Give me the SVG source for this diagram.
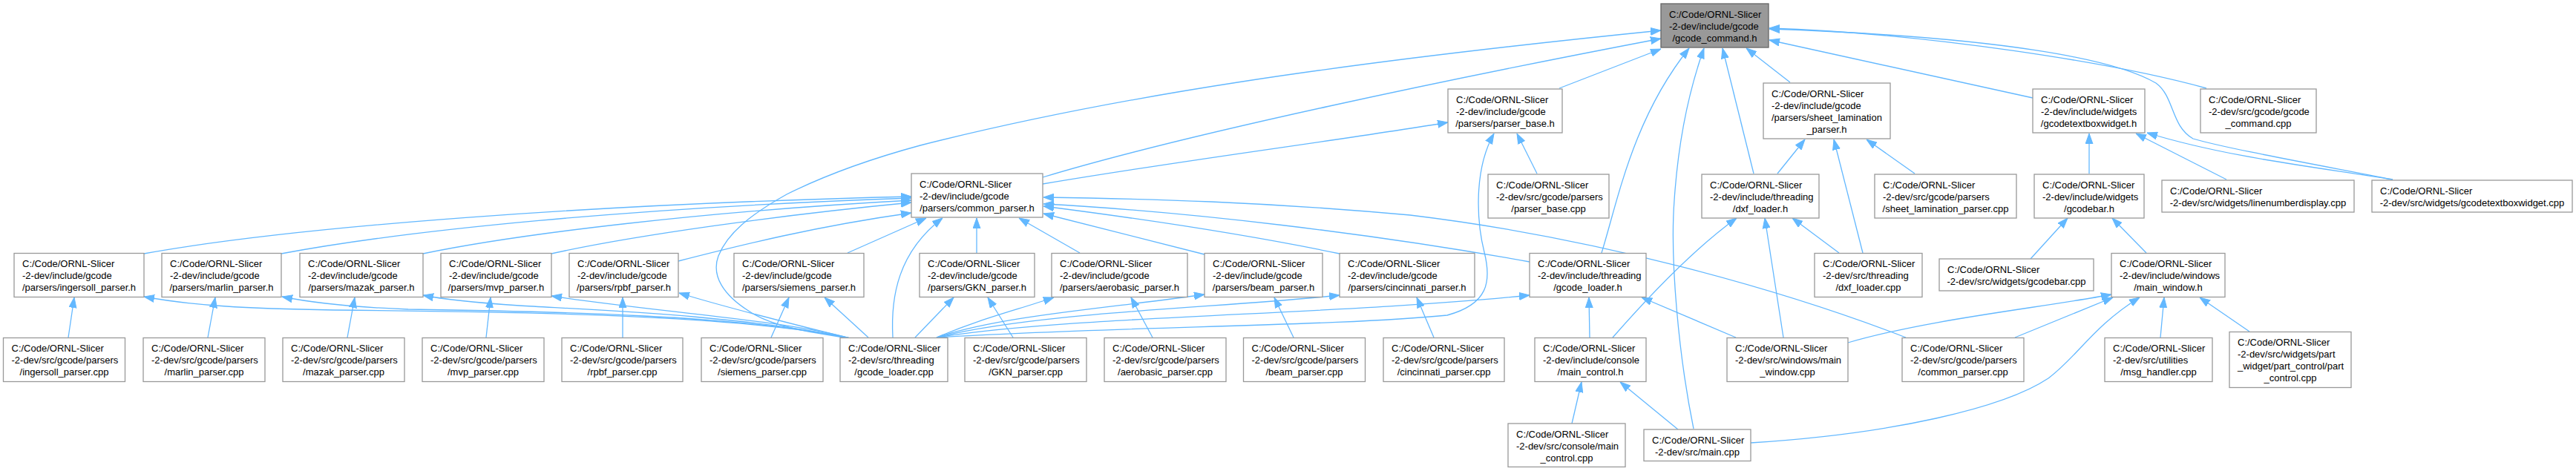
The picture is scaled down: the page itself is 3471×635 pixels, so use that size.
<svg xmlns="http://www.w3.org/2000/svg" width="3471" height="635" viewBox="0 0 3471 635">
<style>
.node rect{fill:#ffffff;stroke:#999999;stroke-width:1.3}
.hl rect{fill:#999999;stroke:#666666;stroke-width:1.3}
text{font-family:"Liberation Sans",Arial,Helvetica,sans-serif;font-size:13px;fill:#000000}
.c{text-anchor:middle}
.e{fill:none;stroke:#63b8ff;stroke-width:1.3;marker-end:url(#ah)}
</style>
<defs>
<marker id="ah" viewBox="0 0 14 11" refX="14" refY="5.5" markerWidth="14" markerHeight="11" orient="auto" markerUnits="userSpaceOnUse">
<path d="M0,0.5 L14,5.5 L0,10.5 z" fill="#63b8ff" stroke="#63b8ff" stroke-width="1"/>
</marker>
</defs>
<rect x="0" y="0" width="3471" height="635" fill="#ffffff"/>
<g id="edges">
<path class="e" d="M1145,456 C1090,448 1040,440 1010,420 C975,398 958,372 968,345 C980,315 1010,290 1060,262 C1110,237 1170,215 1240,196 C1500,130 1800,85 2238,41"/>
<path class="e" d="M1405,239 C1600,180 1960,105 2238,52"/>
<path class="e" d="M1405,248 C1600,215 1800,190 1951,165"/>
<path class="e" d="M2101,119 L2238,66"/>
<path class="e" d="M2158,341 C2180,270 2200,160 2276,65"/>
<path class="e" d="M2282,578 C2262,480 2250,350 2256,270 C2262,180 2280,110 2296,65"/>
<path class="e" d="M2363,234 L2321,65"/>
<path class="e" d="M2412,111 L2353,65"/>
<path class="e" d="M2739,132 L2384,54"/>
<path class="e" d="M2973,119 C2850,85 2600,45 2384,38"/>
<path class="e" d="M3224,242 C3100,218 3000,200 2955,187 C2925,170 2930,130 2905,112 C2850,80 2700,50 2384,39"/>
<path class="e" d="M3224,242 C3120,225 3000,212 2893,179"/>
<path class="e" d="M3000,242 L2878,180"/>
<path class="e" d="M2815,234 L2815,180"/>
<path class="e" d="M2395,234 L2432,188"/>
<path class="e" d="M2510,341 L2471,188"/>
<path class="e" d="M2580,234 L2515,188"/>
<path class="e" d="M2071,234 L2044,180"/>
<path class="e" d="M1262,455 C1500,440 1800,440 1950,425 C2005,410 2010,380 2000,340 C1990,300 1985,230 2013,180"/>
<path class="e" d="M1145,456 C1000,425 700,420 450,418 C330,416 260,412 194,400"/>
<path class="e" d="M1145,456 C1000,425 750,420 550,417 C470,414 420,408 380,400"/>
<path class="e" d="M1145,456 C1000,425 800,418 700,412 C640,408 600,404 570,398"/>
<path class="e" d="M1145,456 C1060,432 880,420 743,399"/>
<path class="e" d="M1145,456 C1080,440 980,415 915,395"/>
<path class="e" d="M1170,455 L1111,401"/>
<path class="e" d="M1233,455 L1285,401"/>
<path class="e" d="M1262,455 C1320,430 1370,418 1420,401"/>
<path class="e" d="M1262,455 C1350,425 1500,415 1623,397"/>
<path class="e" d="M1262,455 C1400,420 1650,415 1805,398"/>
<path class="e" d="M1262,455 C1450,425 1800,425 2061,398"/>
<path class="e" d="M1203,455 C1200,400 1210,340 1270,294"/>
<path class="e" d="M194,342 C400,305 800,275 1228,265"/>
<path class="e" d="M379,342 C550,310 850,280 1228,267"/>
<path class="e" d="M570,342 C700,315 950,285 1228,270"/>
<path class="e" d="M743,342 C850,318 1050,290 1228,273"/>
<path class="e" d="M914,352 C1000,330 1100,305 1228,287"/>
<path class="e" d="M1142,341 L1248,294"/>
<path class="e" d="M1316,341 L1316,294"/>
<path class="e" d="M1455,341 L1373,294"/>
<path class="e" d="M1623,343 L1406,288"/>
<path class="e" d="M1805,342 C1650,310 1500,290 1406,278"/>
<path class="e" d="M2061,353 C1850,315 1600,285 1406,275"/>
<path class="e" d="M2568,455 C2400,390 2150,320 1900,290 C1700,272 1550,268 1406,266"/>
<path class="e" d="M92,455 L100,401"/>
<path class="e" d="M280,455 L290,401"/>
<path class="e" d="M468,455 L478,401"/>
<path class="e" d="M655,455 L661,401"/>
<path class="e" d="M839,455 L839,401"/>
<path class="e" d="M1039,455 L1063,401"/>
<path class="e" d="M1365,455 L1331,401"/>
<path class="e" d="M1553,455 L1524,401"/>
<path class="e" d="M1743,455 L1717,401"/>
<path class="e" d="M1932,455 L1909,401"/>
<path class="e" d="M2142,455 L2141,401"/>
<path class="e" d="M2339,455 L2212,401"/>
<path class="e" d="M2173,455 C2230,390 2290,330 2340,294"/>
<path class="e" d="M2403,455 L2378,294"/>
<path class="e" d="M2478,341 L2415,294"/>
<path class="e" d="M2736,349 L2786,294"/>
<path class="e" d="M2892,341 L2846,294"/>
<path class="e" d="M2490,462 C2600,430 2750,415 2845,397"/>
<path class="e" d="M2715,455 L2847,401"/>
<path class="e" d="M2359,597 C2550,585 2700,550 2760,510 C2800,480 2820,440 2883,401"/>
<path class="e" d="M2911,455 L2916,401"/>
<path class="e" d="M3031,447 L2964,401"/>
<path class="e" d="M2118,571 L2131,515"/>
<path class="e" d="M2261,579 L2183,515"/>
</g>
<g id="gcode_command_h" class="hl"><rect x="2238" y="5" width="145" height="59"/><text x="2249" y="23.5">C:/Code/ORNL-Slicer</text><text x="2249" y="39.5">-2-dev/include/gcode</text><text class="c" x="2310.5" y="55.5">/gcode_command.h</text></g>
<g id="parser_base_h" class="node"><rect x="1951" y="120" width="154" height="59"/><text x="1962" y="138.5">C:/Code/ORNL-Slicer</text><text x="1962" y="154.5">-2-dev/include/gcode</text><text class="c" x="2028" y="170.5">/parsers/parser_base.h</text></g>
<g id="sheet_lamination_parser_h" class="node"><rect x="2376" y="112" width="171" height="75"/><text x="2387" y="130.5">C:/Code/ORNL-Slicer</text><text x="2387" y="146.5">-2-dev/include/gcode</text><text x="2387" y="162.5">/parsers/sheet_lamination</text><text class="c" x="2461.5" y="178.5">_parser.h</text></g>
<g id="gcodetextboxwidget_h" class="node"><rect x="2739" y="120" width="151" height="59"/><text x="2750" y="138.5">C:/Code/ORNL-Slicer</text><text x="2750" y="154.5">-2-dev/include/widgets</text><text class="c" x="2814.5" y="170.5">/gcodetextboxwidget.h</text></g>
<g id="gcode_command_cpp" class="node"><rect x="2965" y="120" width="156" height="59"/><text x="2976" y="138.5">C:/Code/ORNL-Slicer</text><text x="2976" y="154.5">-2-dev/src/gcode/gcode</text><text class="c" x="3043" y="170.5">_command.cpp</text></g>
<g id="common_parser_h" class="node"><rect x="1228" y="234" width="177" height="59"/><text x="1239" y="252.5">C:/Code/ORNL-Slicer</text><text x="1239" y="268.5">-2-dev/include/gcode</text><text class="c" x="1316.5" y="284.5">/parsers/common_parser.h</text></g>
<g id="parser_base_cpp" class="node"><rect x="2005" y="235" width="163" height="59"/><text x="2016" y="253.5">C:/Code/ORNL-Slicer</text><text x="2016" y="269.5">-2-dev/src/gcode/parsers</text><text class="c" x="2086.5" y="285.5">/parser_base.cpp</text></g>
<g id="dxf_loader_h" class="node"><rect x="2293" y="235" width="158" height="59"/><text x="2304" y="253.5">C:/Code/ORNL-Slicer</text><text x="2304" y="269.5">-2-dev/include/threading</text><text class="c" x="2372" y="285.5">/dxf_loader.h</text></g>
<g id="sheet_lamination_parser_cpp" class="node"><rect x="2526" y="235" width="191" height="59"/><text x="2537" y="253.5">C:/Code/ORNL-Slicer</text><text x="2537" y="269.5">-2-dev/src/gcode/parsers</text><text class="c" x="2621.5" y="285.5">/sheet_lamination_parser.cpp</text></g>
<g id="gcodebar_h" class="node"><rect x="2741" y="235" width="148" height="59"/><text x="2752" y="253.5">C:/Code/ORNL-Slicer</text><text x="2752" y="269.5">-2-dev/include/widgets</text><text class="c" x="2815" y="285.5">/gcodebar.h</text></g>
<g id="linenumberdisplay_cpp" class="node"><rect x="2913" y="243" width="259" height="43"/><text x="2924" y="261.5">C:/Code/ORNL-Slicer</text><text class="c" x="3042.5" y="277.5">-2-dev/src/widgets/linenumberdisplay.cpp</text></g>
<g id="gcodetextboxwidget_cpp" class="node"><rect x="3196" y="243" width="270" height="43"/><text x="3207" y="261.5">C:/Code/ORNL-Slicer</text><text class="c" x="3331" y="277.5">-2-dev/src/widgets/gcodetextboxwidget.cpp</text></g>
<g id="ingersoll_parser_h" class="node"><rect x="19" y="341.5" width="175" height="59"/><text x="30" y="360">C:/Code/ORNL-Slicer</text><text x="30" y="376">-2-dev/include/gcode</text><text class="c" x="106.5" y="392">/parsers/ingersoll_parser.h</text></g>
<g id="marlin_parser_h" class="node"><rect x="218" y="341.5" width="161" height="59"/><text x="229" y="360">C:/Code/ORNL-Slicer</text><text x="229" y="376">-2-dev/include/gcode</text><text class="c" x="298.5" y="392">/parsers/marlin_parser.h</text></g>
<g id="mazak_parser_h" class="node"><rect x="404" y="341.5" width="166" height="59"/><text x="415" y="360">C:/Code/ORNL-Slicer</text><text x="415" y="376">-2-dev/include/gcode</text><text class="c" x="487" y="392">/parsers/mazak_parser.h</text></g>
<g id="mvp_parser_h" class="node"><rect x="594" y="341.5" width="149" height="59"/><text x="605" y="360">C:/Code/ORNL-Slicer</text><text x="605" y="376">-2-dev/include/gcode</text><text class="c" x="668.5" y="392">/parsers/mvp_parser.h</text></g>
<g id="rpbf_parser_h" class="node"><rect x="767" y="341.5" width="147" height="59"/><text x="778" y="360">C:/Code/ORNL-Slicer</text><text x="778" y="376">-2-dev/include/gcode</text><text class="c" x="840.5" y="392">/parsers/rpbf_parser.h</text></g>
<g id="siemens_parser_h" class="node"><rect x="989" y="341.5" width="175" height="59"/><text x="1000" y="360">C:/Code/ORNL-Slicer</text><text x="1000" y="376">-2-dev/include/gcode</text><text class="c" x="1076.5" y="392">/parsers/siemens_parser.h</text></g>
<g id="GKN_parser_h" class="node"><rect x="1239" y="341.5" width="155" height="59"/><text x="1250" y="360">C:/Code/ORNL-Slicer</text><text x="1250" y="376">-2-dev/include/gcode</text><text class="c" x="1316.5" y="392">/parsers/GKN_parser.h</text></g>
<g id="aerobasic_parser_h" class="node"><rect x="1417" y="341.5" width="183" height="59"/><text x="1428" y="360">C:/Code/ORNL-Slicer</text><text x="1428" y="376">-2-dev/include/gcode</text><text class="c" x="1508.5" y="392">/parsers/aerobasic_parser.h</text></g>
<g id="beam_parser_h" class="node"><rect x="1623" y="341.5" width="159" height="59"/><text x="1634" y="360">C:/Code/ORNL-Slicer</text><text x="1634" y="376">-2-dev/include/gcode</text><text class="c" x="1702.5" y="392">/parsers/beam_parser.h</text></g>
<g id="cincinnati_parser_h" class="node"><rect x="1805" y="341.5" width="182" height="59"/><text x="1816" y="360">C:/Code/ORNL-Slicer</text><text x="1816" y="376">-2-dev/include/gcode</text><text class="c" x="1896" y="392">/parsers/cincinnati_parser.h</text></g>
<g id="gcode_loader_h" class="node"><rect x="2061" y="341.5" width="157" height="59"/><text x="2072" y="360">C:/Code/ORNL-Slicer</text><text x="2072" y="376">-2-dev/include/threading</text><text class="c" x="2139.5" y="392">/gcode_loader.h</text></g>
<g id="dxf_loader_cpp" class="node"><rect x="2445" y="341.5" width="145" height="59"/><text x="2456" y="360">C:/Code/ORNL-Slicer</text><text x="2456" y="376">-2-dev/src/threading</text><text class="c" x="2517.5" y="392">/dxf_loader.cpp</text></g>
<g id="gcodebar_cpp" class="node"><rect x="2613" y="349" width="208" height="43"/><text x="2624" y="367.5">C:/Code/ORNL-Slicer</text><text class="c" x="2717" y="383.5">-2-dev/src/widgets/gcodebar.cpp</text></g>
<g id="main_window_h" class="node"><rect x="2845" y="341.5" width="153" height="59"/><text x="2856" y="360">C:/Code/ORNL-Slicer</text><text x="2856" y="376">-2-dev/include/windows</text><text class="c" x="2921.5" y="392">/main_window.h</text></g>
<g id="ingersoll_parser_cpp" class="node"><rect x="4.5" y="455.5" width="164" height="59"/><text x="15.5" y="474">C:/Code/ORNL-Slicer</text><text x="15.5" y="490">-2-dev/src/gcode/parsers</text><text class="c" x="86.5" y="506">/ingersoll_parser.cpp</text></g>
<g id="marlin_parser_cpp" class="node"><rect x="193" y="455.5" width="164" height="59"/><text x="204" y="474">C:/Code/ORNL-Slicer</text><text x="204" y="490">-2-dev/src/gcode/parsers</text><text class="c" x="275" y="506">/marlin_parser.cpp</text></g>
<g id="mazak_parser_cpp" class="node"><rect x="381" y="455.5" width="164" height="59"/><text x="392" y="474">C:/Code/ORNL-Slicer</text><text x="392" y="490">-2-dev/src/gcode/parsers</text><text class="c" x="463" y="506">/mazak_parser.cpp</text></g>
<g id="mvp_parser_cpp" class="node"><rect x="569" y="455.5" width="164" height="59"/><text x="580" y="474">C:/Code/ORNL-Slicer</text><text x="580" y="490">-2-dev/src/gcode/parsers</text><text class="c" x="651" y="506">/mvp_parser.cpp</text></g>
<g id="rpbf_parser_cpp" class="node"><rect x="757" y="455.5" width="163" height="59"/><text x="768" y="474">C:/Code/ORNL-Slicer</text><text x="768" y="490">-2-dev/src/gcode/parsers</text><text class="c" x="838.5" y="506">/rpbf_parser.cpp</text></g>
<g id="siemens_parser_cpp" class="node"><rect x="945" y="455.5" width="164" height="59"/><text x="956" y="474">C:/Code/ORNL-Slicer</text><text x="956" y="490">-2-dev/src/gcode/parsers</text><text class="c" x="1027" y="506">/siemens_parser.cpp</text></g>
<g id="gcode_loader_cpp" class="node"><rect x="1132" y="455.5" width="145" height="59"/><text x="1143" y="474">C:/Code/ORNL-Slicer</text><text x="1143" y="490">-2-dev/src/threading</text><text class="c" x="1204.5" y="506">/gcode_loader.cpp</text></g>
<g id="GKN_parser_cpp" class="node"><rect x="1300" y="455.5" width="164" height="59"/><text x="1311" y="474">C:/Code/ORNL-Slicer</text><text x="1311" y="490">-2-dev/src/gcode/parsers</text><text class="c" x="1382" y="506">/GKN_parser.cpp</text></g>
<g id="aerobasic_parser_cpp" class="node"><rect x="1488" y="455.5" width="164" height="59"/><text x="1499" y="474">C:/Code/ORNL-Slicer</text><text x="1499" y="490">-2-dev/src/gcode/parsers</text><text class="c" x="1570" y="506">/aerobasic_parser.cpp</text></g>
<g id="beam_parser_cpp" class="node"><rect x="1675.5" y="455.5" width="164" height="59"/><text x="1686.5" y="474">C:/Code/ORNL-Slicer</text><text x="1686.5" y="490">-2-dev/src/gcode/parsers</text><text class="c" x="1757.5" y="506">/beam_parser.cpp</text></g>
<g id="cincinnati_parser_cpp" class="node"><rect x="1864" y="455.5" width="163" height="59"/><text x="1875" y="474">C:/Code/ORNL-Slicer</text><text x="1875" y="490">-2-dev/src/gcode/parsers</text><text class="c" x="1945.5" y="506">/cincinnati_parser.cpp</text></g>
<g id="main_control_h" class="node"><rect x="2068" y="455.5" width="150" height="59"/><text x="2079" y="474">C:/Code/ORNL-Slicer</text><text x="2079" y="490">-2-dev/include/console</text><text class="c" x="2143" y="506">/main_control.h</text></g>
<g id="main_window_cpp" class="node"><rect x="2327" y="455.5" width="163" height="59"/><text x="2338" y="474">C:/Code/ORNL-Slicer</text><text x="2338" y="490">-2-dev/src/windows/main</text><text class="c" x="2408.5" y="506">_window.cpp</text></g>
<g id="common_parser_cpp" class="node"><rect x="2563" y="455.5" width="164" height="59"/><text x="2574" y="474">C:/Code/ORNL-Slicer</text><text x="2574" y="490">-2-dev/src/gcode/parsers</text><text class="c" x="2645" y="506">/common_parser.cpp</text></g>
<g id="msg_handler_cpp" class="node"><rect x="2836" y="455.5" width="145" height="59"/><text x="2847" y="474">C:/Code/ORNL-Slicer</text><text x="2847" y="490">-2-dev/src/utilities</text><text class="c" x="2908.5" y="506">/msg_handler.cpp</text></g>
<g id="part_control_cpp" class="node"><rect x="3004" y="447.5" width="164" height="75"/><text x="3015" y="466">C:/Code/ORNL-Slicer</text><text x="3015" y="482">-2-dev/src/widgets/part</text><text x="3015" y="498">_widget/part_control/part</text><text class="c" x="3086" y="514">_control.cpp</text></g>
<g id="main_control_cpp" class="node"><rect x="2032" y="571" width="158" height="58.5"/><text x="2043" y="589.5">C:/Code/ORNL-Slicer</text><text x="2043" y="605.5">-2-dev/src/console/main</text><text class="c" x="2111" y="621.5">_control.cpp</text></g>
<g id="main_cpp" class="node"><rect x="2215" y="579" width="144" height="42.5"/><text x="2226" y="597.5">C:/Code/ORNL-Slicer</text><text class="c" x="2287" y="613.5">-2-dev/src/main.cpp</text></g>
</svg>
